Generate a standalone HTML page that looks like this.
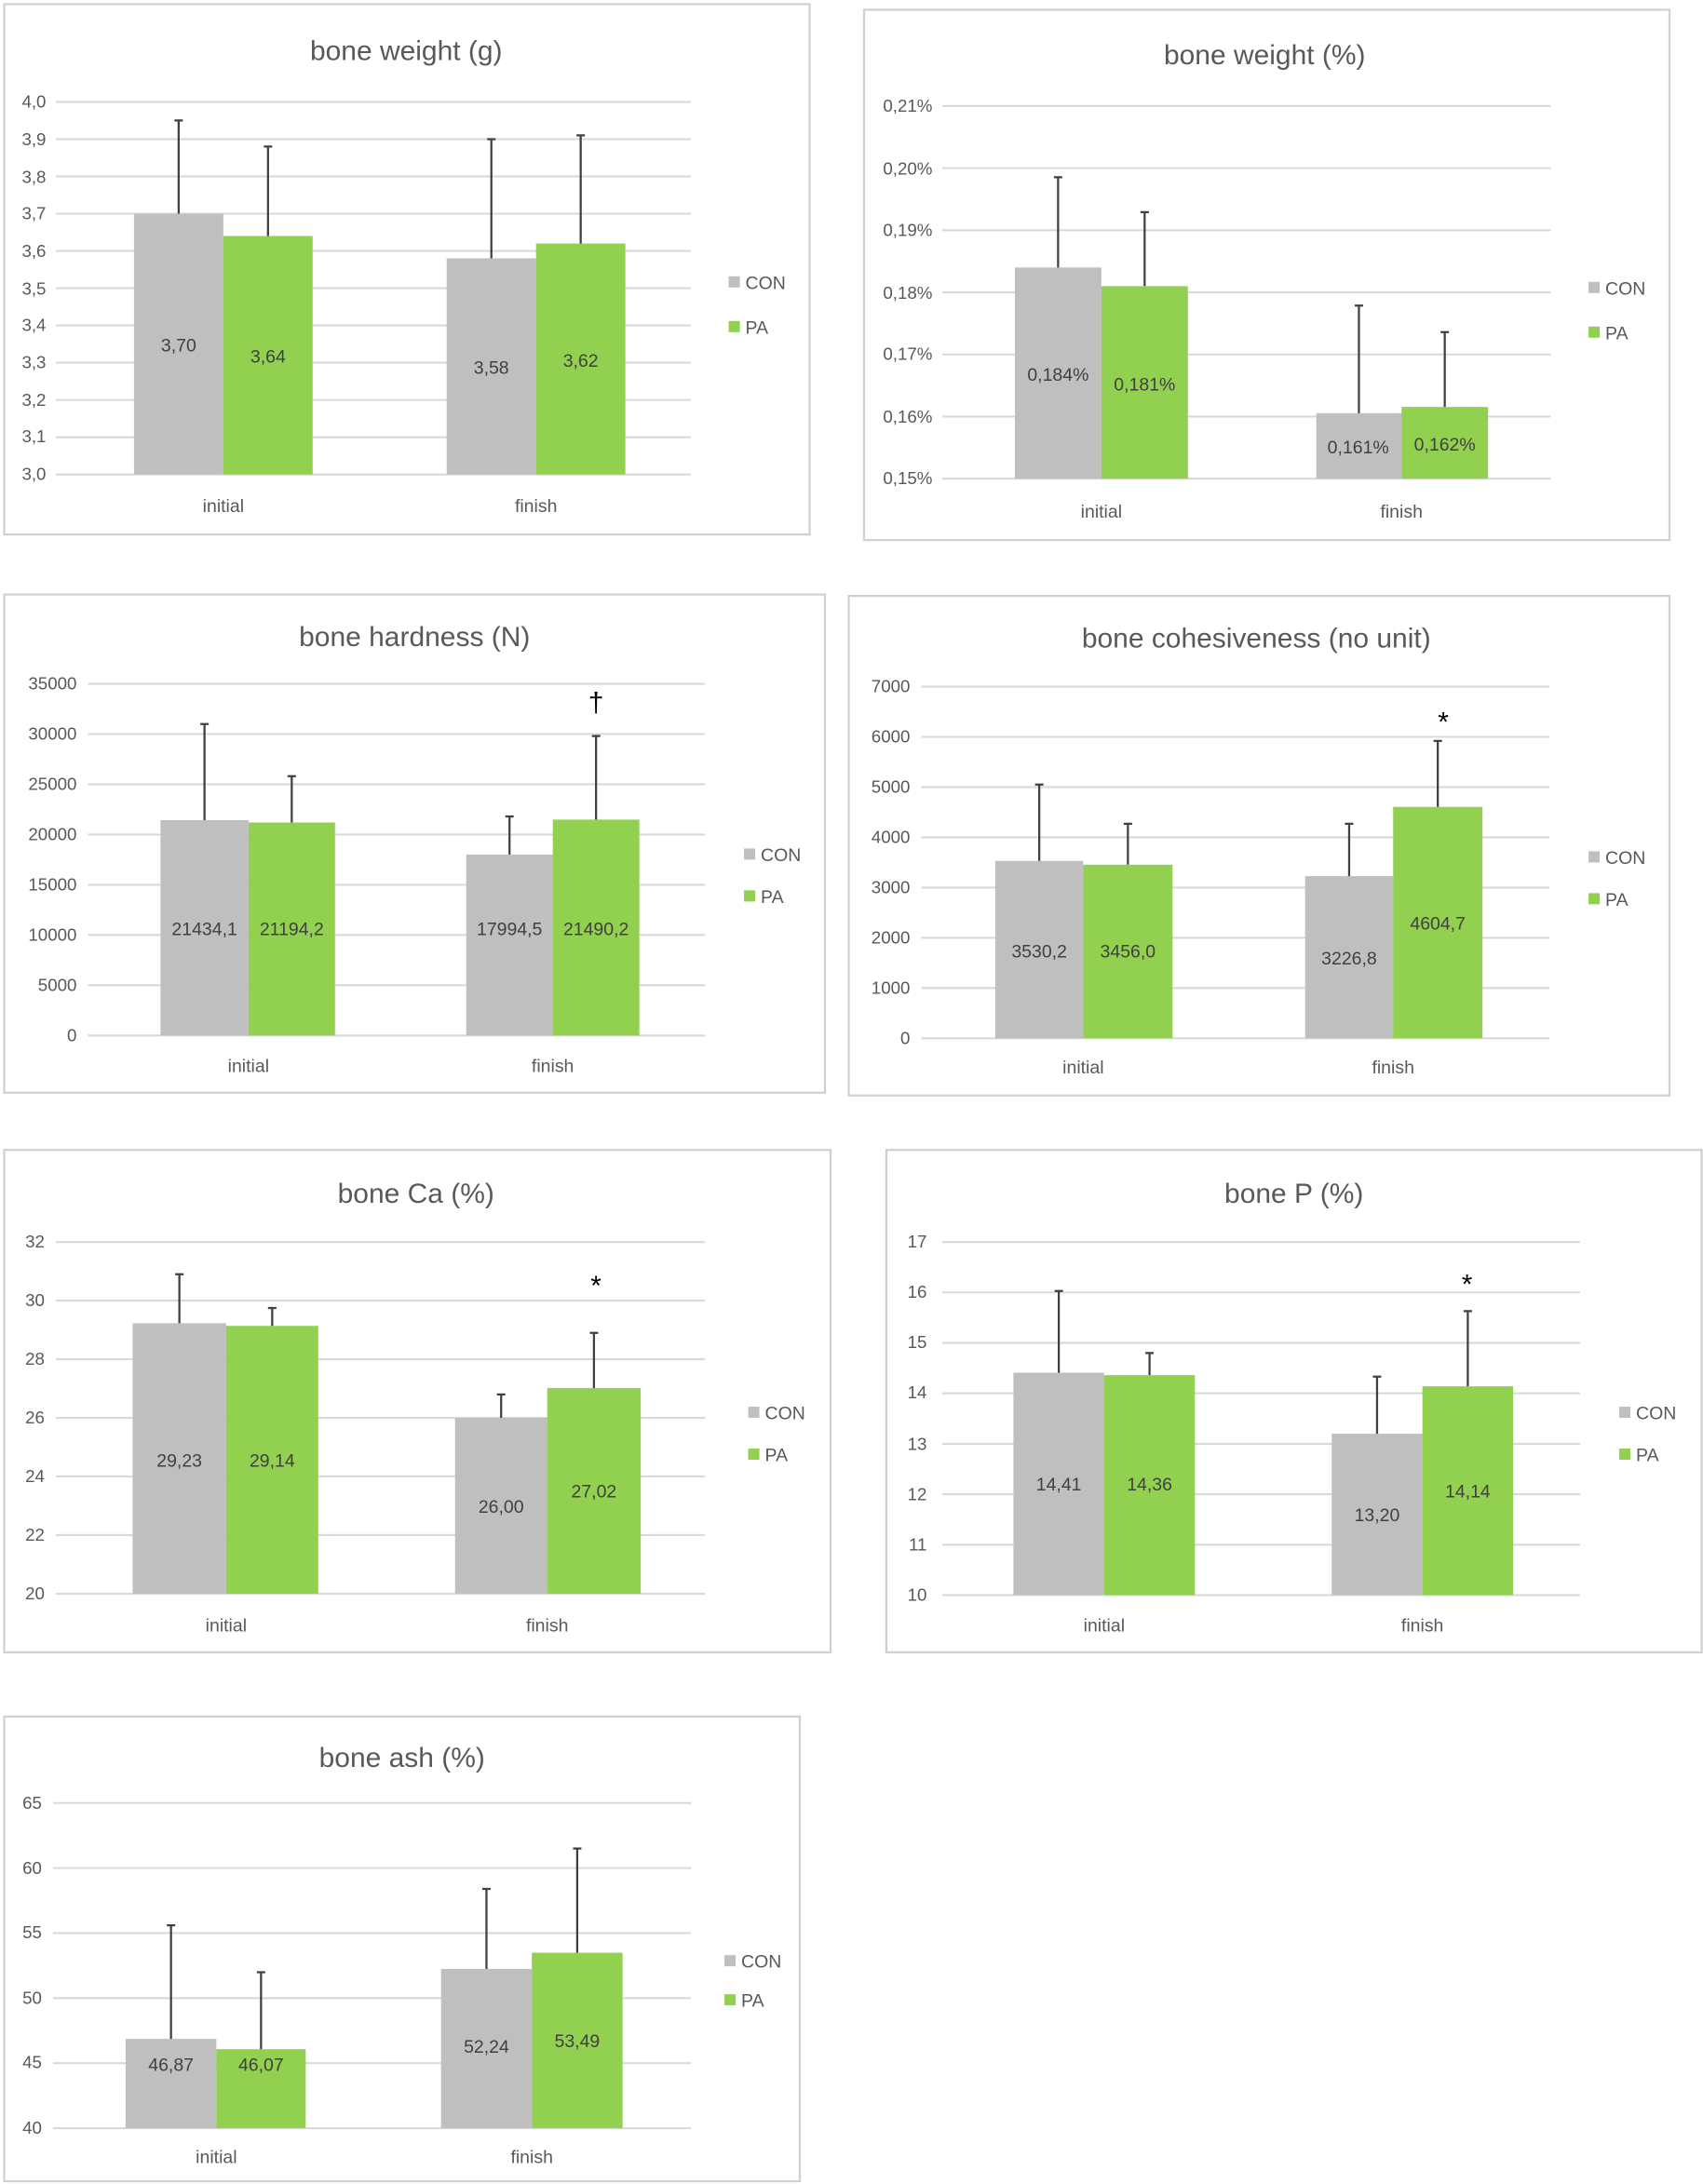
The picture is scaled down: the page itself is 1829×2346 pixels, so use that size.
<!DOCTYPE html>
<html><head><meta charset="utf-8"><style>
html,body{margin:0;padding:0;background:#fff;}
svg{display:block;}
text{font-family:"Liberation Sans",sans-serif;fill:#595959;}
.t{font-size:20px;text-anchor:middle;}
.y{font-size:12.5px;text-anchor:end;}
.c{font-size:13px;text-anchor:middle;}
.v{font-size:13px;text-anchor:middle;fill:#404040;}
.l{font-size:13px;}
.g line{stroke:#d9d9d9;stroke-width:1.4;}
.e{stroke:#404040;stroke-width:1.5;}
.box{fill:none;stroke:#d0d0d0;stroke-width:1.5;}
.s{font-size:20px;text-anchor:middle;fill:#000;}
</style></head><body>
<svg width="1829" height="2346" viewBox="0 0 1220 1565" preserveAspectRatio="none" xmlns="http://www.w3.org/2000/svg">
<rect width="1220" height="1565" fill="#fff"/>

<!-- Chart 1 -->
<rect class="box" x="3" y="3" width="577" height="380"/>
<text class="t" x="291" y="43">bone weight (g)</text>
<g class="g"><line x1="40" x2="495" y1="73" y2="73"/><line x1="40" x2="495" y1="99.7" y2="99.7"/><line x1="40" x2="495" y1="126.4" y2="126.4"/><line x1="40" x2="495" y1="153.1" y2="153.1"/><line x1="40" x2="495" y1="179.8" y2="179.8"/><line x1="40" x2="495" y1="206.5" y2="206.5"/><line x1="40" x2="495" y1="233.2" y2="233.2"/><line x1="40" x2="495" y1="259.9" y2="259.9"/><line x1="40" x2="495" y1="286.6" y2="286.6"/><line x1="40" x2="495" y1="313.3" y2="313.3"/><line x1="40" x2="495" y1="340" y2="340"/></g>
<text class="y" x="33" y="77">4,0</text><text class="y" x="33" y="104">3,9</text><text class="y" x="33" y="131">3,8</text><text class="y" x="33" y="157">3,7</text><text class="y" x="33" y="184">3,6</text><text class="y" x="33" y="211">3,5</text><text class="y" x="33" y="237">3,4</text><text class="y" x="33" y="264">3,3</text><text class="y" x="33" y="291">3,2</text><text class="y" x="33" y="317">3,1</text><text class="y" x="33" y="344">3,0</text>
<rect x="96" y="153.1" width="64" height="186.9" fill="#bfbfbf"/><rect x="160" y="169.1" width="64" height="170.9" fill="#92d050"/>
<rect x="320" y="185.1" width="64" height="154.9" fill="#bfbfbf"/><rect x="384" y="174.5" width="64" height="165.5" fill="#92d050"/>
<path class="e" d="M128 153.1V86.3M125 86.3h6M192 169.1V105M189 105h6M352 185.1V99.7M349 99.7h6M416 174.5V97M413 97h6"/>
<text class="v" x="128" y="252">3,70</text><text class="v" x="192" y="260">3,64</text><text class="v" x="352" y="268">3,58</text><text class="v" x="416" y="263">3,62</text>
<text class="c" x="160" y="367">initial</text><text class="c" x="384" y="367">finish</text>
<rect x="522" y="198" width="8" height="8" fill="#bfbfbf"/><text class="l" x="534" y="207">CON</text>
<rect x="522" y="230" width="8" height="8" fill="#92d050"/><text class="l" x="534" y="239">PA</text>

<!-- Chart 2 -->
<rect class="box" x="619" y="7" width="577" height="380"/>
<text class="t" x="906" y="46">bone weight (%)</text>
<g class="g"><line x1="675" x2="1111" y1="76" y2="76"/><line x1="675" x2="1111" y1="120.5" y2="120.5"/><line x1="675" x2="1111" y1="165" y2="165"/><line x1="675" x2="1111" y1="209.5" y2="209.5"/><line x1="675" x2="1111" y1="254" y2="254"/><line x1="675" x2="1111" y1="298.5" y2="298.5"/><line x1="675" x2="1111" y1="343" y2="343"/></g>
<text class="y" x="668" y="80">0,21%</text><text class="y" x="668" y="125">0,20%</text><text class="y" x="668" y="169">0,19%</text><text class="y" x="668" y="214">0,18%</text><text class="y" x="668" y="258">0,17%</text><text class="y" x="668" y="303">0,16%</text><text class="y" x="668" y="347">0,15%</text>
<rect x="727" y="191.7" width="62" height="151.3" fill="#bfbfbf"/><rect x="789" y="205.05" width="62" height="137.95" fill="#92d050"/>
<rect x="943" y="296.05" width="61" height="46.95" fill="#bfbfbf"/><rect x="1004" y="291.6" width="62" height="51.4" fill="#92d050"/>
<path class="e" d="M758 191.7V127M755 127h6M820 205V152M817 152h6M973.5 296V219M970.5 219h6M1035 291.6V238M1032 238h6"/>
<text class="v" x="758" y="273">0,184%</text><text class="v" x="820" y="280">0,181%</text><text class="v" x="973" y="325">0,161%</text><text class="v" x="1035" y="323">0,162%</text>
<text class="c" x="789" y="371">initial</text><text class="c" x="1004" y="371">finish</text>
<rect x="1138" y="202" width="8" height="8" fill="#bfbfbf"/><text class="l" x="1150" y="211">CON</text>
<rect x="1138" y="234" width="8" height="8" fill="#92d050"/><text class="l" x="1150" y="243">PA</text>

<!-- Chart 3 -->
<rect class="box" x="3" y="426" width="588" height="357"/>
<text class="t" x="297" y="463">bone hardness (N)</text>
<g class="g"><line x1="63" x2="505" y1="490" y2="490"/><line x1="63" x2="505" y1="526" y2="526"/><line x1="63" x2="505" y1="562" y2="562"/><line x1="63" x2="505" y1="598" y2="598"/><line x1="63" x2="505" y1="634" y2="634"/><line x1="63" x2="505" y1="670" y2="670"/><line x1="63" x2="505" y1="706" y2="706"/><line x1="63" x2="505" y1="742" y2="742"/></g>
<text class="y" x="55" y="494">35000</text><text class="y" x="55" y="530">30000</text><text class="y" x="55" y="566">25000</text><text class="y" x="55" y="602">20000</text><text class="y" x="55" y="638">15000</text><text class="y" x="55" y="674">10000</text><text class="y" x="55" y="710">5000</text><text class="y" x="55" y="746">0</text>
<rect x="115" y="587.7" width="63" height="154.3" fill="#bfbfbf"/><rect x="178" y="589.4" width="62" height="152.6" fill="#92d050"/>
<rect x="334" y="612.4" width="62" height="129.6" fill="#bfbfbf"/><rect x="396" y="587.3" width="62" height="154.7" fill="#92d050"/>
<path class="e" d="M146.5 587.7V518.8M143.5 518.8h6M209 589.4V556.2M206 556.2h6M365 612.4V585M362 585h6M427 587.3V527.4M424 527.4h6"/>
<text class="v" x="146.5" y="670">21434,1</text><text class="v" x="209" y="670">21194,2</text><text class="v" x="365" y="670">17994,5</text><text class="v" x="427" y="670">21490,2</text>
<text class="s" x="427" y="510">†</text>
<text class="c" x="178" y="768">initial</text><text class="c" x="396" y="768">finish</text>
<rect x="533" y="608" width="8" height="8" fill="#bfbfbf"/><text class="l" x="545" y="617">CON</text>
<rect x="533" y="638" width="8" height="8" fill="#92d050"/><text class="l" x="545" y="647">PA</text>

<!-- Chart 4 -->
<rect class="box" x="608" y="427" width="588" height="358"/>
<text class="t" x="900" y="464">bone cohesiveness (no unit)</text>
<g class="g"><line x1="660" x2="1110" y1="492" y2="492"/><line x1="660" x2="1110" y1="528" y2="528"/><line x1="660" x2="1110" y1="564" y2="564"/><line x1="660" x2="1110" y1="600" y2="600"/><line x1="660" x2="1110" y1="636" y2="636"/><line x1="660" x2="1110" y1="672" y2="672"/><line x1="660" x2="1110" y1="708" y2="708"/><line x1="660" x2="1110" y1="744" y2="744"/></g>
<text class="y" x="652" y="496">7000</text><text class="y" x="652" y="532">6000</text><text class="y" x="652" y="568">5000</text><text class="y" x="652" y="604">4000</text><text class="y" x="652" y="640">3000</text><text class="y" x="652" y="676">2000</text><text class="y" x="652" y="712">1000</text><text class="y" x="652" y="748">0</text>
<rect x="713" y="616.9" width="63" height="127.1" fill="#bfbfbf"/><rect x="776" y="619.6" width="64" height="124.4" fill="#92d050"/>
<rect x="935" y="627.8" width="63" height="116.2" fill="#bfbfbf"/><rect x="998" y="578.2" width="64" height="165.8" fill="#92d050"/>
<path class="e" d="M744.5 616.9V562.2M741.5 562.2h6M808 619.6V590.3M805 590.3h6M966.5 627.8V590.3M963.5 590.3h6M1030 578.2V530.9M1027 530.9h6"/>
<text class="v" x="744.5" y="686">3530,2</text><text class="v" x="808" y="686">3456,0</text><text class="v" x="966.5" y="691">3226,8</text><text class="v" x="1030" y="666">4604,7</text>
<text class="s" x="1034" y="524">*</text>
<text class="c" x="776" y="769">initial</text><text class="c" x="998" y="769">finish</text>
<rect x="1138" y="610" width="8" height="8" fill="#bfbfbf"/><text class="l" x="1150" y="619">CON</text>
<rect x="1138" y="640" width="8" height="8" fill="#92d050"/><text class="l" x="1150" y="649">PA</text>

<!-- Chart 5 -->
<rect class="box" x="3" y="824" width="592" height="360"/>
<text class="t" x="298" y="862">bone Ca (%)</text>
<g class="g"><line x1="40" x2="505" y1="890" y2="890"/><line x1="40" x2="505" y1="932" y2="932"/><line x1="40" x2="505" y1="974" y2="974"/><line x1="40" x2="505" y1="1016" y2="1016"/><line x1="40" x2="505" y1="1058" y2="1058"/><line x1="40" x2="505" y1="1100" y2="1100"/><line x1="40" x2="505" y1="1142" y2="1142"/></g>
<text class="y" x="32" y="894">32</text><text class="y" x="32" y="936">30</text><text class="y" x="32" y="978">28</text><text class="y" x="32" y="1020">26</text><text class="y" x="32" y="1062">24</text><text class="y" x="32" y="1104">22</text><text class="y" x="32" y="1146">20</text>
<rect x="95" y="948.2" width="67" height="193.8" fill="#bfbfbf"/><rect x="162" y="950.1" width="66" height="191.9" fill="#92d050"/>
<rect x="326" y="1016" width="66" height="126" fill="#bfbfbf"/><rect x="392" y="994.6" width="67" height="147.4" fill="#92d050"/>
<path class="e" d="M128.5 948.2V913.1M125.5 913.1h6M195 950.1V937.25M192 937.25h6M359 1016V999.2M356 999.2h6M425.5 994.6V955.1M422.5 955.1h6"/>
<text class="v" x="128.5" y="1051">29,23</text><text class="v" x="195" y="1051">29,14</text><text class="v" x="359" y="1084">26,00</text><text class="v" x="425.5" y="1073">27,02</text>
<text class="s" x="427" y="928">*</text>
<text class="c" x="162" y="1169">initial</text><text class="c" x="392" y="1169">finish</text>
<rect x="536" y="1008" width="8" height="8" fill="#bfbfbf"/><text class="l" x="548" y="1017">CON</text>
<rect x="536" y="1038" width="8" height="8" fill="#92d050"/><text class="l" x="548" y="1047">PA</text>

<!-- Chart 6 -->
<rect class="box" x="635" y="824" width="584" height="360"/>
<text class="t" x="927" y="862">bone P (%)</text>
<g class="g"><line x1="675" x2="1132" y1="890" y2="890"/><line x1="675" x2="1132" y1="926.1" y2="926.1"/><line x1="675" x2="1132" y1="962.3" y2="962.3"/><line x1="675" x2="1132" y1="998.4" y2="998.4"/><line x1="675" x2="1132" y1="1034.6" y2="1034.6"/><line x1="675" x2="1132" y1="1070.7" y2="1070.7"/><line x1="675" x2="1132" y1="1106.9" y2="1106.9"/><line x1="675" x2="1132" y1="1143" y2="1143"/></g>
<text class="y" x="664" y="894">17</text><text class="y" x="664" y="930">16</text><text class="y" x="664" y="966">15</text><text class="y" x="664" y="1002">14</text><text class="y" x="664" y="1039">13</text><text class="y" x="664" y="1075">12</text><text class="y" x="664" y="1111">11</text><text class="y" x="664" y="1147">10</text>
<rect x="726" y="983.6" width="65" height="159.4" fill="#bfbfbf"/><rect x="791" y="985.4" width="65" height="157.6" fill="#92d050"/>
<rect x="954" y="1027.4" width="65" height="115.6" fill="#bfbfbf"/><rect x="1019" y="993.4" width="65" height="149.6" fill="#92d050"/>
<path class="e" d="M758.5 983.6V925.1M755.5 925.1h6M823.5 985.4V969.5M820.5 969.5h6M986.5 1027.4V986.5M983.5 986.5h6M1051.5 993.4V939.5M1048.5 939.5h6"/>
<text class="v" x="758.5" y="1068">14,41</text><text class="v" x="823.5" y="1068">14,36</text><text class="v" x="986.5" y="1090">13,20</text><text class="v" x="1051.5" y="1073">14,14</text>
<text class="s" x="1051" y="927">*</text>
<text class="c" x="791" y="1169">initial</text><text class="c" x="1019" y="1169">finish</text>
<rect x="1160" y="1008" width="8" height="8" fill="#bfbfbf"/><text class="l" x="1172" y="1017">CON</text>
<rect x="1160" y="1038" width="8" height="8" fill="#92d050"/><text class="l" x="1172" y="1047">PA</text>

<!-- Chart 7 -->
<rect class="box" x="3" y="1230" width="570" height="333"/>
<text class="t" x="288" y="1266">bone ash (%)</text>
<g class="g"><line x1="38" x2="495" y1="1292" y2="1292"/><line x1="38" x2="495" y1="1338.6" y2="1338.6"/><line x1="38" x2="495" y1="1385.2" y2="1385.2"/><line x1="38" x2="495" y1="1431.8" y2="1431.8"/><line x1="38" x2="495" y1="1478.4" y2="1478.4"/><line x1="38" x2="495" y1="1525" y2="1525"/></g>
<text class="y" x="30" y="1296">65</text><text class="y" x="30" y="1343">60</text><text class="y" x="30" y="1389">55</text><text class="y" x="30" y="1436">50</text><text class="y" x="30" y="1482">45</text><text class="y" x="30" y="1529">40</text>
<rect x="90" y="1461" width="65" height="64" fill="#bfbfbf"/><rect x="155" y="1468.4" width="64" height="56.6" fill="#92d050"/>
<rect x="316" y="1410.9" width="65" height="114.1" fill="#bfbfbf"/><rect x="381" y="1399.3" width="65" height="125.7" fill="#92d050"/>
<path class="e" d="M122.5 1461V1379.6M119.5 1379.6h6M187 1468.4V1413.2M184 1413.2h6M348.5 1410.9V1353.5M345.5 1353.5h6M413.5 1399.3V1324.6M410.5 1324.6h6"/>
<text class="v" x="122.5" y="1484">46,87</text><text class="v" x="187" y="1484">46,07</text><text class="v" x="348.5" y="1471">52,24</text><text class="v" x="413.5" y="1467">53,49</text>
<text class="c" x="155" y="1550">initial</text><text class="c" x="381" y="1550">finish</text>
<rect x="519" y="1401" width="8" height="8" fill="#bfbfbf"/><text class="l" x="531" y="1410">CON</text>
<rect x="519" y="1429" width="8" height="8" fill="#92d050"/><text class="l" x="531" y="1438">PA</text>
</svg>
</body></html>
